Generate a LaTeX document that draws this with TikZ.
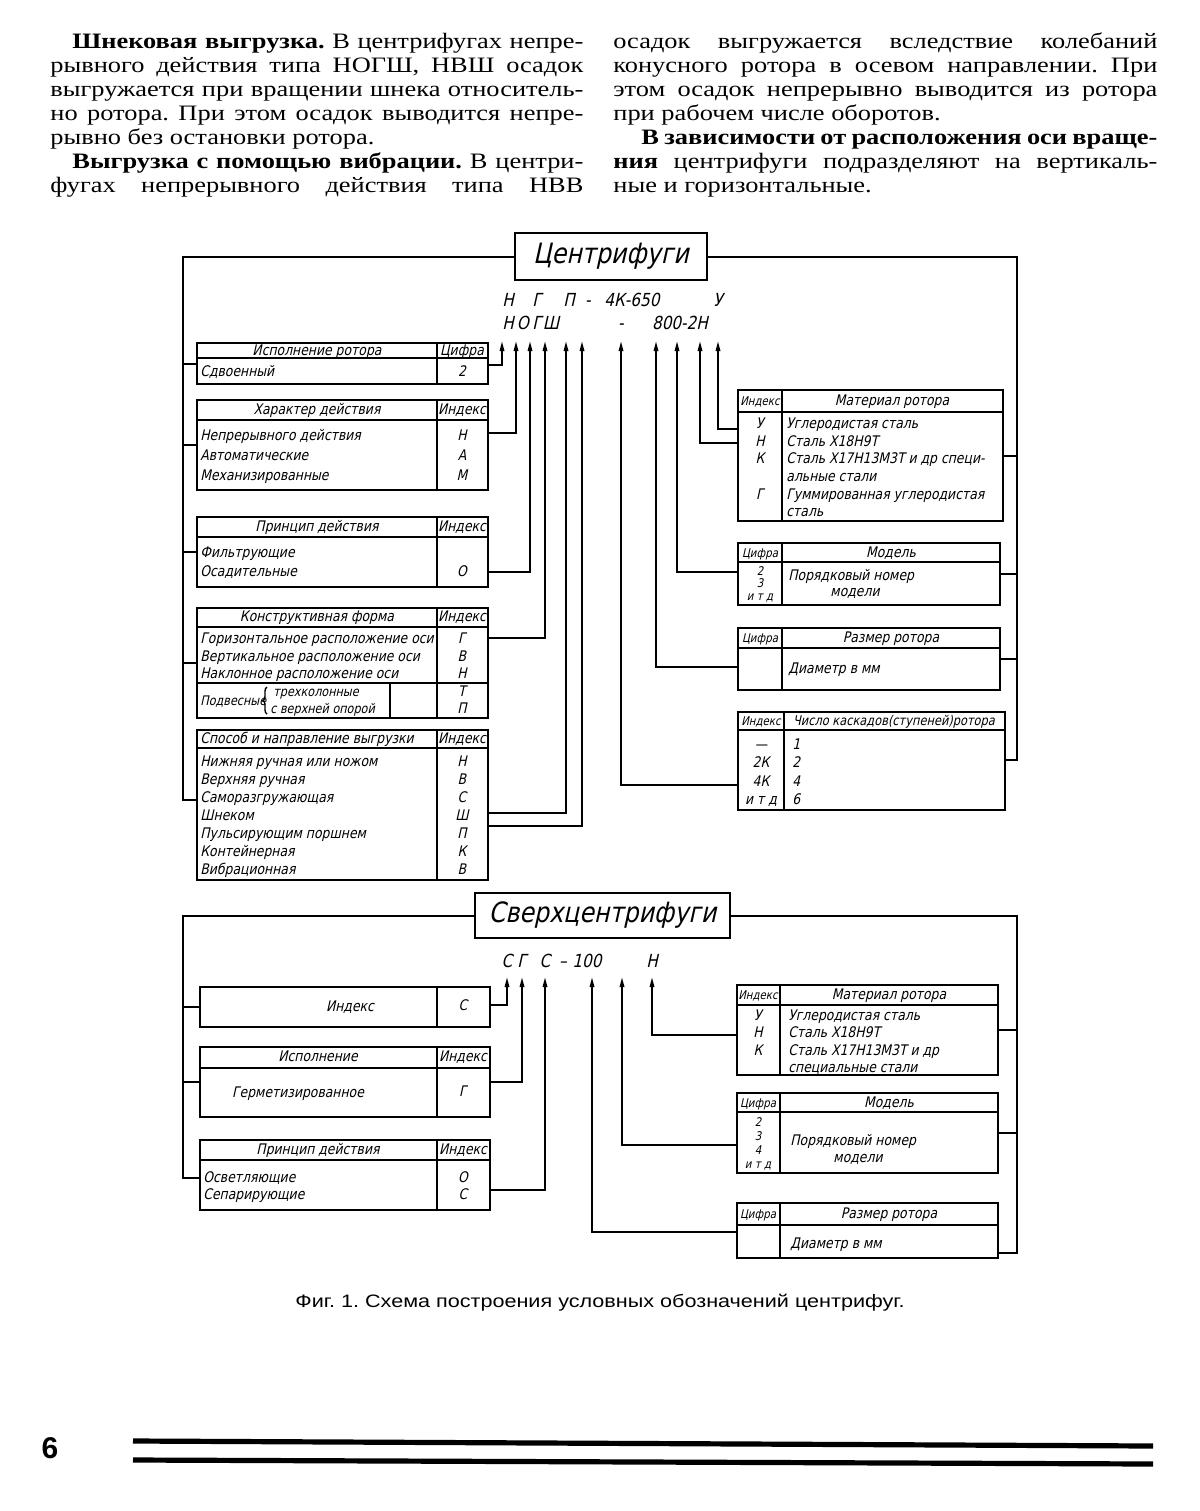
\documentclass[tikz,border=0pt]{standalone}
\usepackage{fontspec}
\setmainfont{Liberation Serif}
\newfontfamily\bodyf{Liberation Serif}[FakeStretch=1.2]
\newfontfamily\drf{DejaVu Sans}[FakeStretch=0.85,FakeSlant=0.22]
\newfontfamily\capf{Liberation Sans}[FakeStretch=1.2]
\newfontfamily\numf{Liberation Sans}
\usetikzlibrary{arrows.meta,fit,decorations.pathreplacing}
\tikzset{
  bt/.style={font=\bodyf\fontsize{11}{12}\selectfont\frenchspacing, inner sep=0pt, anchor=base west},
  tb/.style={draw, line width=0.9pt, inner sep=0pt, outer sep=0pt},
  ln/.style={line width=0.7pt},
  br/.style={line width=1pt},
  conn/.style={line width=0.9pt, -{Triangle[length=5pt,width=2.2pt]}},
  tx/.style={font=\drf\fontsize{7.3}{8}\selectfont, inner sep=0pt, anchor=mid},
  txl/.style={tx, anchor=mid west},
  txs/.style={tx, font=\drf\fontsize{6}{7}\selectfont},
  ttl/.style={draw, line width=1pt, inner sep=0pt, font=\drf\fontsize{14}{16}\selectfont},
  cd/.style={font=\drf\fontsize{9}{10}\selectfont, inner sep=0pt, anchor=mid},
}
\newcommand\tbl[7]{%
  \node[tb, fit={(#2,#3) (#4,#5)}] (#1) {};
  \draw[ln] (#2,#6) -- (#4,#6);
  \draw[ln] (#7,#3) -- (#7,#5);
}
\newcommand\cn[5]{%
  \coordinate (#3) at (#4,#5);
  \coordinate (#3h) at (0,#2);
  \draw[conn] (#1 |- #3h) -| (#3);
}
\begin{document}
\begin{tikzpicture}[x=0.5pt,y=-0.5pt]
\useasboundingbox (0,0) rectangle (1200,1511);
\fill[white] (0,0) rectangle (1200,1511);

% ---------- body text ----------
\node[bt] (l1) at (72,48)  {\makebox[255.5pt][s]{\textbf{Шнековая выгрузка.} В центрифугах непре-}};
\node[bt] (l2) at (50,72)  {\makebox[266.5pt][s]{рывного действия типа НОГШ, НВШ осадок}};
\node[bt] (l3) at (50,96)  {\makebox[266.5pt][s]{выгружается при вращении шнека относитель-}};
\node[bt] (l4) at (50,120) {\makebox[266.5pt][s]{но ротора. При этом осадок выводится непре-}};
\node[bt] (l5) at (50,144) {рывно без остановки ротора.};
\node[bt] (l6) at (72,168) {\makebox[255.5pt][s]{\textbf{Выгрузка с помощью вибрации.} В центри-}};
\node[bt] (l7) at (50,192) {\makebox[266.5pt][s]{фугах непрерывного действия типа НВВ}};
\node[bt] (r1) at (613,48)  {\makebox[272pt][s]{осадок выгружается вследствие колебаний}};
\node[bt] (r2) at (613,72)  {\makebox[272pt][s]{конусного ротора в осевом направлении. При}};
\node[bt] (r3) at (613,96)  {\makebox[272pt][s]{этом осадок непрерывно выводится из ротора}};
\node[bt] (r4) at (613,120) {при рабочем числе оборотов.};
\node[bt] (r5) at (641,144) {\makebox[258pt][s]{\textbf{В зависимости от расположения оси враще-}}};
\node[bt] (r6) at (613,168) {\makebox[272pt][s]{\textbf{ния} центрифуги подразделяют на вертикаль-}};
\node[bt] (r7) at (613,192) {ные и горизонтальные.};

% ---------- upper scheme ----------
\node[ttl, minimum width=96pt, minimum height=23.5pt] (C) at (611,256.5) {Центрифуги};

\node[cd] (c1) at (508,302) {Н};
\node[cd] (c2) at (537,302) {Г};
\node[cd] (c3) at (569,302) {П};
\node[cd] (c4) at (588,302) {-};
\node[cd] (c5) at (632,302) {4К-650};
\node[cd] (c6) at (718,302) {У};
\node[cd] (d1) at (508,325) {Н};
\node[cd] (d2) at (523,325) {О};
\node[cd] (d3) at (537,325) {Г};
\node[cd] (d4) at (551,325) {Ш};
\node[cd] (d5) at (621,325) {-};
\node[cd] (d6) at (680,325) {800-2Н};

% left tables
\tbl{T1}{197}{343}{488}{384}{358}{437}
\node[tx] (T1h) at (317,351) {Исполнение ротора};
\node[tx] (T1i) at (462,351) {Цифра};
\node[txl] (T1r) at (200,372) {Сдвоенный};
\node[tx] (T1v) at (462,372) {2};

\tbl{T2}{197}{400}{488}{490}{420}{437}
\node[tx] (T2h) at (317,410) {Характер действия};
\node[tx] (T2i) at (462,410) {Индекс};
\foreach \t/\v [count=\i from 0] in {Непрерывного действия/Н,Автоматические/А,Механизированные/М}{
  \node[txl] (T2r\i) at (200,{436+20*\i}) {\t};
  \node[tx] (T2v\i) at (462,{436+20*\i}) {\v};
}

\tbl{T3}{197}{517}{488}{587}{537}{437}
\node[tx] (T3h) at (317,527) {Принцип действия};
\node[tx] (T3i) at (462,527) {Индекс};
\node[txl] (T3r0) at (200,553) {Фильтрующие};
\node[txl] (T3r1) at (200,572) {Осадительные};
\node[tx] (T3v1) at (462,572) {О};

\tbl{T4}{197}{608}{488}{718}{627}{437}
\node[tx] (T4h) at (317,617) {Конструктивная форма};
\node[tx] (T4i) at (462,617) {Индекс};
\foreach \t/\v [count=\i from 0] in {Горизонтальное расположение оси/Г,Вертикальное расположение оси/В,Наклонное расположение оси/Н}{
  \node[txl] (T4r\i) at (200,{639+17.5*\i}) {\t};
  \node[tx] (T4v\i) at (462,{639+17.5*\i}) {\v};
}
\draw[ln] (197,683) -- (488,683);
\draw[ln] (390,683) -- (390,718);
\node[txl, font=\drf\fontsize{6.6}{7}\selectfont] (T4p) at (200,701) {Подвесные};
\draw[ln, decorate, decoration={brace, amplitude=2pt}] (267,714) -- (267,687);
\node[txl, font=\drf\fontsize{6.6}{7}\selectfont] (T4q) at (273,692) {трехколонные};
\node[txl, font=\drf\fontsize{6.6}{7}\selectfont] (T4s) at (270,709) {с верхней опорой};
\node[tx] (T4v3) at (462,692) {Т};
\node[tx] (T4v4) at (462,709) {П};

\tbl{T5}{197}{730}{488}{880}{748}{437}
\node[txl] (T5h) at (200,739) {Способ и направление выгрузки};
\node[tx] (T5i) at (462,739) {Индекс};
\foreach \t/\v [count=\i from 0] in {Нижняя ручная или ножом/Н,Верхняя ручная/В,Саморазгружающая/С,Шнеком/Ш,Пульсирующим поршнем/П,Контейнерная/К,Вибрационная/В}{
  \node[txl] (T5r\i) at (200,{762+18*\i}) {\t};
  \node[tx] (T5v\i) at (462,{762+18*\i}) {\v};
}

% right tables
\tbl{R1}{738}{390}{1003}{521}{412}{782}
\node[txs] (R1i) at (760,401) {Индекс};
\node[tx] (R1h) at (892,401) {Материал ротора};
\foreach \v/\t [count=\i from 0] in {У/Углеродистая сталь,Н/Сталь Х18Н9Т,К/Сталь Х17Н13М3Т и др специ-,/альные стали,Г/Гуммированная углеродистая,/сталь}{
  \node[tx] (R1v\i) at (760,{424+17.6*\i}) {\v};
  \node[txl] (R1r\i) at (786,{424+17.6*\i}) {\t};
}

\tbl{R2}{738}{543}{1000}{605}{562}{782}
\node[txs] (R2i) at (760,553) {Цифра};
\node[tx] (R2h) at (891,553) {Модель};
\node[txs] (R2v0) at (760,571) {2};
\node[txs] (R2v1) at (760,583) {3};
\node[txs] (R2v2) at (760,596) {и т д};
\node[txl] (R2r0) at (788,576) {Порядковый номер};
\node[tx] (R2r1) at (855,592) {модели};

\tbl{R3}{738}{628}{1000}{690}{648}{782}
\node[txs] (R3i) at (760,638) {Цифра};
\node[tx] (R3h) at (891,638) {Размер ротора};
\node[txl] (R3r) at (788,669) {Диаметр в мм};

\tbl{R4}{738}{712}{1005}{810}{730}{784}
\node[txs] (R4i) at (761,721) {Индекс};
\node[tx, font=\drf\fontsize{6.7}{8}\selectfont] (R4h) at (894,721) {Число каскадов(ступеней)ротора};
\foreach \v/\t [count=\i from 0] in {—/1,2К/2,4К/4,и т д/6}{
  \node[tx] (R4v\i) at (761,{745+18.3*\i}) {\v};
  \node[txl] (R4r\i) at (792,{745+18.3*\i}) {\t};
}

% brackets
\coordinate (LB) at (183,800);
\draw[br] (C.west) -| (LB) -- (T5.west |- LB);
\foreach \t in {T1,T2,T3,T4} \draw[br] (LB |- \t.west) -- (\t.west);
\coordinate (RB) at (1017,760);
\draw[br] (C.east) -| (RB) -- (R4.east |- RB);
\foreach \t in {R1,R2,R3} \draw[br] (RB |- \t.east) -- (\t.east);

% connectors to code letters
\cn{T1.east}{365}{a1}{502}{341}
\cn{T2.east}{433}{a2}{516}{341}
\cn{T3.east}{572}{a3}{530}{341}
\cn{T4.east}{638}{a4}{545}{341}
\cn{T5.east}{813}{a5}{566}{341}
\cn{T5.east}{826}{a6}{582}{341}
\cn{R4.west}{785}{a7}{621}{341}
\cn{R3.west}{667}{a8}{656}{341}
\cn{R2.west}{572}{a9}{677}{341}
\cn{R1.west}{443}{a10}{700}{341}
\cn{R1.west}{429}{a11}{718}{341}

% ---------- lower scheme ----------
\node[ttl, minimum width=127.5pt, minimum height=22.5pt] (S) at (602.5,915.5) {Сверхцентрифуги};

\node[cd] (e1) at (507,963) {С};
\node[cd] (e2) at (522,963) {Г};
\node[cd] (e3) at (545,963) {С};
\node[cd] (e4) at (563,963) {–};
\node[cd] (e5) at (587,963) {100};
\node[cd] (e6) at (652,963) {Н};

\node[tb, fit={(200,987) (490,1027)}] (L1) {};
\draw[ln] (437,987) -- (437,1027);
\node[tx] (L1h) at (350,1007) {Индекс};
\node[tx] (L1v) at (463,1006) {С};

\tbl{L2}{200}{1047}{490}{1117}{1068}{437}
\node[tx] (L2h) at (318,1057) {Исполнение};
\node[tx] (L2i) at (463,1057) {Индекс};
\node[tx] (L2r) at (298,1093) {Герметизированное};
\node[tx] (L2v) at (463,1092) {Г};

\tbl{L3}{200}{1140}{490}{1210}{1160}{437}
\node[tx] (L3h) at (318,1150) {Принцип действия};
\node[tx] (L3i) at (463,1150) {Индекс};
\node[txl] (L3r0) at (203,1178) {Осветляющие};
\node[txl] (L3r1) at (203,1195) {Сепарирующие};
\node[tx] (L3v0) at (463,1178) {О};
\node[tx] (L3v1) at (463,1195) {С};

\tbl{RR1}{737}{985}{998}{1075}{1005}{780}
\node[txs] (RR1i) at (758,995) {Индекс};
\node[tx] (RR1h) at (889,995) {Материал ротора};
\foreach \v/\t [count=\i from 0] in {У/Углеродистая сталь,Н/Сталь Х18Н9Т,К/Сталь Х17Н13М3Т и др,/специальные стали}{
  \node[tx] (RR1v\i) at (758,{1016+17.3*\i}) {\v};
  \node[txl] (RR1r\i) at (788,{1016+17.3*\i}) {\t};
}

\tbl{RR2}{737}{1093}{998}{1173}{1112}{780}
\node[txs] (RR2i) at (758,1103) {Цифра};
\node[tx] (RR2h) at (889,1103) {Модель};
\foreach \v [count=\i from 0] in {2,3,4,и т д}{
  \node[txs] (RR2v\i) at (758,{1122+14*\i}) {\v};
}
\node[txl] (RR2r0) at (790,1141) {Порядковый номер};
\node[tx] (RR2r1) at (858,1158) {модели};

\tbl{RR3}{737}{1203}{998}{1258}{1225}{780}
\node[txs] (RR3i) at (758,1214) {Цифра};
\node[tx] (RR3h) at (889,1214) {Размер ротора};
\node[txl] (RR3r) at (790,1244) {Диаметр в мм};

\coordinate (LB2) at (183,1178);
\draw[br] (S.west) -| (LB2) -- (L3.west |- LB2);
\foreach \t in {L1,L2} \draw[br] (LB2 |- \t.west) -- (\t.west);
\coordinate (RB2) at (1017,1253);
\draw[br] (S.east) -| (RB2) -- (RR3.east |- RB2);
\foreach \t in {RR1,RR2} \draw[br] (RB2 |- \t.east) -- (\t.east);

\cn{L1.east}{1005}{b1}{507}{977}
\cn{L2.east}{1082}{b2}{522}{977}
\cn{L3.east}{1190}{b3}{545}{977}
\cn{RR3.west}{1232}{b4}{592}{977}
\cn{RR2.west}{1145}{b5}{622}{977}
\cn{RR1.west}{1035}{b6}{652}{977}

% ---------- caption and footer ----------
\node[inner sep=0pt, anchor=base, font=\capf\fontsize{9}{10}\selectfont\frenchspacing] (cap) at (600,1307)
  {Фиг. 1. Схема построения условных обозначений центрифуг.};
\node[inner sep=0pt, anchor=base, font=\numf\bfseries\fontsize{15}{17}\selectfont] (pg) at (50,1458) {6};
\draw[line width=2.6pt] (133,1441) -- (1153,1446);
\draw[line width=2.6pt] (133,1460) -- (1153,1464);
\end{tikzpicture}
\end{document}
